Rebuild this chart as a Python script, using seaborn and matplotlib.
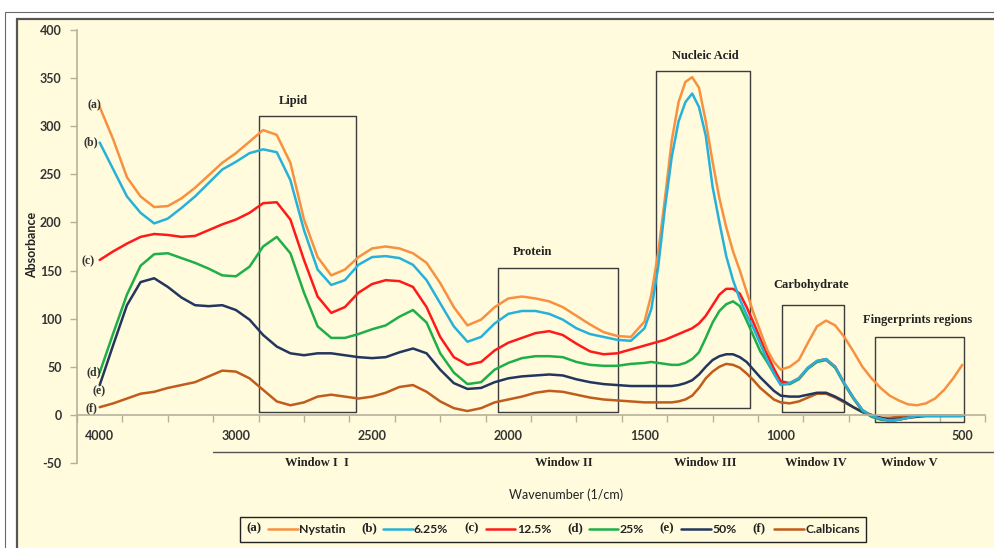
import numpy as np
import pandas as pd
import seaborn as sns
import matplotlib
matplotlib.use('Agg')
import matplotlib.pyplot as plt
from matplotlib.patches import Rectangle
from matplotlib.lines import Line2D
from matplotlib.text import Text
from matplotlib.legend_handler import HandlerBase

# Wavenumbers (1/cm) sampled along the x axis
wavenumber = [4000, 3900, 3800, 3700, 3600, 3500, 3400, 3300, 3200, 3100, 3000,
              2950, 2900, 2850, 2800, 2750, 2700, 2650, 2600, 2550, 2500,
              2450, 2400, 2350, 2300, 2250, 2200, 2150, 2100, 2050, 2000,
              1950, 1900, 1850, 1800, 1750, 1700, 1650, 1600, 1550,
              1500, 1475, 1450, 1425, 1400, 1375, 1350, 1325, 1300, 1275,
              1250, 1225, 1200, 1175, 1150, 1125, 1100, 1075, 1050, 1025,
              1000, 975, 950, 925, 900, 875, 850, 825, 800, 775,
              750, 725, 700, 675, 650, 625, 600, 575, 550, 525, 500]

nystatin = [320, 286, 247, 227, 216, 217, 225, 236, 249, 262, 272,
            284, 296, 291, 262, 203, 164, 145, 151, 164, 173,
            175, 173, 168, 158, 137, 112, 93, 99, 112, 121,
            123, 121, 118, 112, 103, 94, 86, 82, 81,
            97, 125, 168, 225, 285, 325, 346, 351, 340, 305,
            263, 225, 195, 170, 150, 128, 106, 87, 68, 55,
            47, 50, 57, 75, 92, 98, 93, 81, 66, 50,
            38, 28, 20, 15, 11, 10, 12, 17, 26, 38, 52]

conc_625 = [283, 255, 227, 210, 199, 204, 215, 227, 241, 255, 263,
            272, 276, 273, 244, 192, 151, 135, 140, 156, 164,
            165, 163, 156, 140, 116, 92, 76, 81, 95, 105,
            108, 108, 105, 99, 90, 84, 81, 78, 77,
            90, 110, 153, 215, 268, 305, 325, 334, 320, 290,
            237, 200, 165, 140, 120, 104, 90, 74, 57, 43,
            31, 33, 38, 49, 56, 58, 50, 33, 18, 5,
            -1, -4, -6, -5, -3, -1, -1, -1, -1, -1, -1]

conc_125 = [161, 170, 178, 185, 188, 187, 185, 186, 192, 198, 203,
            210, 220, 221, 203, 161, 123, 106, 112, 127, 136,
            140, 139, 133, 112, 81, 60, 52, 55, 67, 75,
            80, 85, 87, 83, 74, 66, 63, 64, 68,
            72, 74, 76, 78, 81, 84, 87, 90, 95, 103,
            114, 125, 131, 131, 126, 112, 96, 79, 63, 48,
            35, 33, 38, 49, 56, 58, 50, 33, 18, 5,
            -1, -4, -6, -5, -3, -1, -1, -1, -1, -1, -1]

conc_25 = [44, 85, 125, 155, 167, 168, 163, 158, 152, 145, 144,
           154, 175, 185, 168, 127, 92, 80, 80, 84, 89,
           93, 102, 109, 96, 64, 44, 32, 34, 47, 54,
           59, 61, 61, 60, 55, 52, 51, 51, 53,
           54, 55, 54, 53, 52, 52, 54, 58, 65, 80,
           96, 108, 115, 118, 113, 98, 82, 66, 55, 43,
           32, 32, 37, 48, 55, 57, 49, 32, 17, 4,
           -2, -5, -6, -5, -3, -1, -1, -1, -1, -1, -1]

conc_50 = [31, 73, 114, 138, 142, 133, 122, 114, 113, 114, 109,
           99, 83, 71, 64, 62, 64, 64, 62, 60, 59,
           60, 65, 69, 64, 47, 33, 27, 28, 34, 38,
           40, 41, 42, 41, 37, 34, 32, 31, 30,
           30, 30, 30, 30, 30, 31, 33, 36, 42, 50,
           57, 61, 63, 63, 60, 55, 47, 39, 32, 25,
           20, 19, 19, 21, 23, 23, 19, 14, 8, 3,
           0, -3, -5, -4, -3, -2, -1, -1, -1, -1, -1]

albicans = [8, 12, 17, 22, 24, 28, 31, 34, 40, 46, 45,
            38, 26, 14, 10, 13, 19, 21, 19, 17, 19,
            23, 29, 31, 24, 14, 7, 4, 7, 13, 16,
            19, 23, 25, 24, 21, 18, 16, 15, 14,
            13, 13, 13, 13, 13, 14, 16, 20, 28, 38,
            45, 50, 53, 52, 49, 43, 36, 28, 22, 16,
            13, 12, 14, 18, 22, 22, 18, 13, 8, 3,
            -1, -3, -3, -2, -1, -1, -1, -1, -1, -1, -1]

series_names = ['Nystatin', '6.25%', '12.5%', '25%', '50%', 'C.albicans']
series_tags = ['(a)', '(b)', '(c)', '(d)', '(e)', '(f)']
series_values = [nystatin, conc_625, conc_125, conc_25, conc_50, albicans]
colors = ['#f7913f', '#27b1d9', '#ff1a1a', '#1fae48', '#22365e', '#c05c1c']

tick_labels = [4000, 3000, 2500, 2000, 1500, 1000, 500]

df = pd.concat([pd.DataFrame({'wavenumber': wavenumber, 'absorbance': v, 'sample': n})
                for n, v in zip(series_names, series_values)])

cream = '#fffbdc'
axis_col = '#b8b19a'
serif = ['Liberation Serif', 'DejaVu Serif']

sns.set_theme(style='white')
plt.rcParams['font.family'] = ['Lato', 'DejaVu Sans']
plt.rcParams['axes.unicode_minus'] = False
plt.rcParams['lines.solid_joinstyle'] = 'round'
plt.rcParams['lines.solid_capstyle'] = 'round'

# Excel-like category axis: labels are not evenly spaced in wavenumber
knot_wn = np.array([0, 437.5, 500, 1000, 1500, 2000, 2500, 3000, 4000, 4166.67, 6000])
knot_pos = np.array([23.5, 20, 19.5, 15.5, 12.5, 9.5, 6.5, 3.5, 0.5, 0, -5.5])


def fwd(w):
    return np.interp(w, knot_wn, -knot_pos)


def inv(t):
    return np.interp(t, -knot_pos, knot_wn)


fig = plt.figure(figsize=(9.95, 5.48), dpi=100)
fig.patch.set_facecolor('white')
fig.patches.append(Rectangle((5 / 995, -0.1), 1.2, 1.1 - 12 / 548, transform=fig.transFigure,
                             facecolor='white', edgecolor='#6a6a6a', lw=0.8, zorder=-20))
fig.patches.append(Rectangle((17 / 995, -0.1), 1.2, 1.1 - 19 / 548, transform=fig.transFigure,
                             facecolor=cream, edgecolor='#555555', lw=1.6, zorder=-10))

ax = fig.add_axes([77 / 995, 1 - 463 / 548, 908 / 995, 433 / 548])
ax.set_facecolor('none')
ax.set_xscale('function', functions=(fwd, inv))
ax.set_xlim(4166.67, 437.5)
ax.set_ylim(-50, 400)

draw_order = ['C.albicans', '50%', '25%', '12.5%', 'Nystatin', '6.25%']
sns.lineplot(data=df, x='wavenumber', y='absorbance', hue='sample', hue_order=draw_order,
             palette=dict(zip(series_names, colors)), linewidth=1.8, sort=False,
             estimator=None, errorbar=None, legend=False, ax=ax)

# spines and ticks
for s in ['top', 'right']:
    ax.spines[s].set_visible(False)
ax.spines['bottom'].set_position(('data', 0))
ax.spines['bottom'].set_color(axis_col)
ax.spines['left'].set_color(axis_col)
ax.spines['bottom'].set_linewidth(1.2)
ax.spines['left'].set_linewidth(1.2)

ax.set_xticks(tick_labels)
ax.set_xticklabels([str(t) for t in tick_labels])
ax.set_xticks(inv(-np.arange(0, 21)), minor=True)
ax.tick_params(axis='x', which='major', length=0, pad=11, labelsize=9, labelcolor='#333333')
ax.tick_params(axis='x', which='minor', direction='out', length=5, width=1, color=axis_col, bottom=True)
ax.set_yticks(range(-50, 401, 50))
ax.tick_params(axis='y', direction='out', length=5, width=1, color=axis_col, left=True,
               pad=6, labelsize=9, labelcolor='#333333')
for lab in ax.get_xticklabels() + ax.get_yticklabels():
    lab.set_fontweight('bold')
ax.set_xlabel('')
ax.set_ylabel('')

# region boxes
boxes = [(2915, 2558, 3, 311, 'Lipid', 2790, 326),
         (2038, 1597, 3, 153, 'Protein', 1910, 169),
         (1459, 1112, 7.6, 357, 'Nucleic Acid', 1278, 373),
         (996, 826, 3, 114, 'Carbohydrate', 916, 135),
         (740, 495, -7, 81, 'Fingerprints regions', 622, 99)]
for x0, x1, y0, y1, name, tx, ty in boxes:
    ax.plot([x0, x1, x1, x0, x0], [y0, y0, y1, y1, y0], color='#3c3c3c', lw=1.0, zorder=1)
    ax.text(tx, ty, name, ha='center', va='center', family=serif, fontweight='bold',
            fontsize=9, color='#222222')

# curve tags at the left end
tag_pos = [(4042, 322), (4064, 283), (4086, 160), (4042, 44), (4005, 25), (4057, 7)]
for tag, (tx, ty) in zip(series_tags, tag_pos):
    ax.text(tx, ty, tag, ha='center', va='center', family=serif, fontweight='bold',
            fontsize=8.5, color='#333333', clip_on=False)

# window bar below the axis
ax.plot([3167, 410], [-38.4, -38.4], color='#555555', lw=1.0, clip_on=False)
windows = [('Window I  I', 2702), ('Window II', 1795), ('Window III', 1276),
           ('Window IV', 904), ('Window V', 645)]
for name, wx in windows:
    ax.text(wx, -50.5, name, ha='center', va='center', family=serif, fontweight='bold',
            fontsize=9, color='#222222', clip_on=False)

fig.text(32 / 995, 1 - 245 / 548, 'Absorbance', rotation=90, ha='center', va='center',
         fontsize=9, fontweight='bold', color='#222222')
fig.text(566 / 995, 1 - 495 / 548, 'Wavenumber (1/cm)', ha='center', va='center',
         fontsize=9, color='#222222')


class TagLine(HandlerBase):
    def __init__(self, tag):
        super().__init__()
        self.tag = tag

    def create_artists(self, legend, orig_handle, xdescent, ydescent, width, height, fontsize, trans):
        y = height / 2 - ydescent
        t = Text(-xdescent, y, self.tag, ha='left', va='center', fontsize=fontsize + 0.5,
                 fontweight='bold', family=serif, color='#222222', transform=trans)
        ln = Line2D([-xdescent + 0.42 * width, -xdescent + width], [y, y],
                    color=orig_handle.get_color(), lw=orig_handle.get_linewidth(), transform=trans)
        return [t, ln]


handles = [Line2D([], [], color=c, lw=1.8) for c in colors]
leg = fig.legend(handles, series_names, loc='center', bbox_to_anchor=(553 / 995, 1 - 529.5 / 548),
                 ncol=6, fontsize=8.8, handlelength=4.2, handletextpad=0.1, columnspacing=1.3,
                 frameon=True, fancybox=False, borderpad=0.55,
                 handler_map={h: TagLine(t) for h, t in zip(handles, series_tags)})
leg.get_frame().set_edgecolor('#222222')
leg.get_frame().set_facecolor(cream)
leg.get_frame().set_linewidth(1.0)
leg.get_frame().set_alpha(1)
for t in leg.get_texts():
    t.set_fontweight('bold')
    t.set_color('#222222')

fig.savefig('out.png', dpi=100, facecolor=fig.get_facecolor())
